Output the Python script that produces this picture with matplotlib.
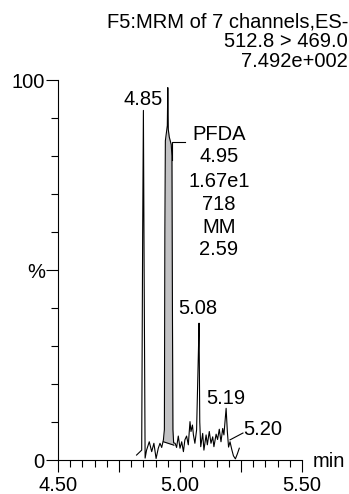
import numpy as np
import matplotlib
matplotlib.use("Agg")
import matplotlib.pyplot as plt
from matplotlib.ticker import FixedLocator, MultipleLocator

plt.rcParams['font.family'] = ['Liberation Sans', 'DejaVu Sans']

# trace (time in min, intensity in %)
rt = [4.822, 4.843, 4.847, 4.850, 4.853, 4.857, 4.863, 4.874, 4.884, 4.893,
      4.902, 4.911, 4.918, 4.925, 4.932, 4.936, 4.938, 4.940, 4.944, 4.948,
      4.950, 4.952, 4.956, 4.960, 4.964, 4.967, 4.969, 4.971, 4.974, 4.980,
      4.986, 4.993, 5.000, 5.007, 5.014, 5.020, 5.027, 5.034, 5.041, 5.045,
      5.051, 5.055, 5.061, 5.068, 5.076, 5.078, 5.081, 5.085, 5.093, 5.098,
      5.107, 5.112, 5.120, 5.127, 5.134, 5.139, 5.148, 5.154, 5.161, 5.168,
      5.175, 5.180, 5.189, 5.194, 5.199, 5.205, 5.212, 5.219, 5.227, 5.235,
      5.243]
intensity = [1.3, 2.6, 60, 92, 50, 0.5, 2.6, 4.8, 2.2, 4.4,
             0.4, 3.1, 4.4, 3.3, 5.3, 8, 60, 84, 86, 88,
             98, 87, 85, 84, 83, 80, 40, 8, 4.5, 4.4,
             3.3, 6.3, 3.1, 4.8, 2.2, 5.3, 6.3, 4.0, 10.1, 7.5,
             9.2, 6.6, 4.4, 7.9, 30, 36, 10, 3.5, 7.0, 2.6,
             6.6, 4.0, 7.5, 4.4, 6.1, 3.5, 6.8, 5.4, 8.1, 4.8,
             8.3, 6.6, 13.6, 7.5, 3.4, 4.8, 2.8, 1.1, 0.3, 1.6,
             3.1]

# integrated PFDA peak: start/end of the baseline
base_rt = [4.932, 4.975]
base_int = [4.8, 3.9]

# peak labels (time, baseline height of text)
peak_labels = ["4.85", "5.08", "5.19"]
peak_label_rt = [4.848, 5.074, 5.189]
peak_label_y = [93.5, 38.5, 14.8]

pfda_lines = ["PFDA", "4.95", "1.67e1", "718", "MM", "2.59"]
pfda_line_y = [84.2, 78.4, 71.8, 65.8, 59.7, 53.9]

header = ["F5:MRM of 7 channels,ES-", "512.8 > 469.0", "7.492e+002"]

fig = plt.figure(figsize=(3.49, 4.94), dpi=100)
ax = fig.add_axes([58 / 349, 34 / 494, 244 / 349, 380 / 494])

rt_a = np.array(rt)
int_a = np.array(intensity)
mask = (rt_a >= base_rt[0]) & (rt_a <= base_rt[1])
base_line = np.interp(rt_a[mask], base_rt, base_int)
ax.fill_between(rt_a[mask], base_line, int_a[mask], color='#c2c2c4', lw=0)
ax.plot(base_rt, base_int, color='black', lw=0.8)
ax.plot(rt, intensity, color='black', lw=0.8)

fs = 14.5
for lab, x, y in zip(peak_labels, peak_label_rt, peak_label_y):
    ax.text(x, y, lab, ha='center', va='baseline', fontsize=fs)
for lab, y in zip(pfda_lines, pfda_line_y):
    ax.text(5.160, y, lab, ha='center', va='baseline', fontsize=fs)
# leader lines
ax.plot([4.968, 4.968, 5.022], [79, 83.7, 83.7], color='black', lw=0.8)
ax.text(5.259, 6.6, "5.20", ha='left', va='baseline', fontsize=fs)
ax.plot([5.205, 5.258], [5.3, 7.1], color='black', lw=0.8)

ax.set_xlim(4.5, 5.5)
ax.set_ylim(0, 100)
ax.spines['top'].set_visible(False)
ax.spines['right'].set_visible(False)
ax.xaxis.set_major_locator(FixedLocator([4.5, 4.75, 5.0, 5.25, 5.5]))
ax.set_xticklabels(["4.50", "", "5.00", "", "5.50"])
ax.xaxis.set_minor_locator(MultipleLocator(0.05))
ax.yaxis.set_major_locator(FixedLocator([0, 50, 100]))
ax.set_yticklabels(["0", "%", "100"])
ax.yaxis.set_minor_locator(MultipleLocator(10))
ax.tick_params(axis='both', which='major', length=8.5, width=0.8, labelsize=fs)
ax.tick_params(axis='both', which='minor', length=5, width=0.8)
ax.tick_params(axis='x', which='major', pad=3)
ax.tick_params(axis='y', which='major', pad=1)
for s in ['left', 'bottom']:
    ax.spines[s].set_linewidth(0.8)

ax.text(1.045, -0.018, "min", transform=ax.transAxes, ha='left',
        va='baseline', fontsize=fs)

for lab, py in zip(header, [28, 47, 67]):
    fig.text(348 / 349, 1 - py / 494, lab, ha='right', va='baseline', fontsize=fs)

fig.savefig("out.png", dpi=100)
